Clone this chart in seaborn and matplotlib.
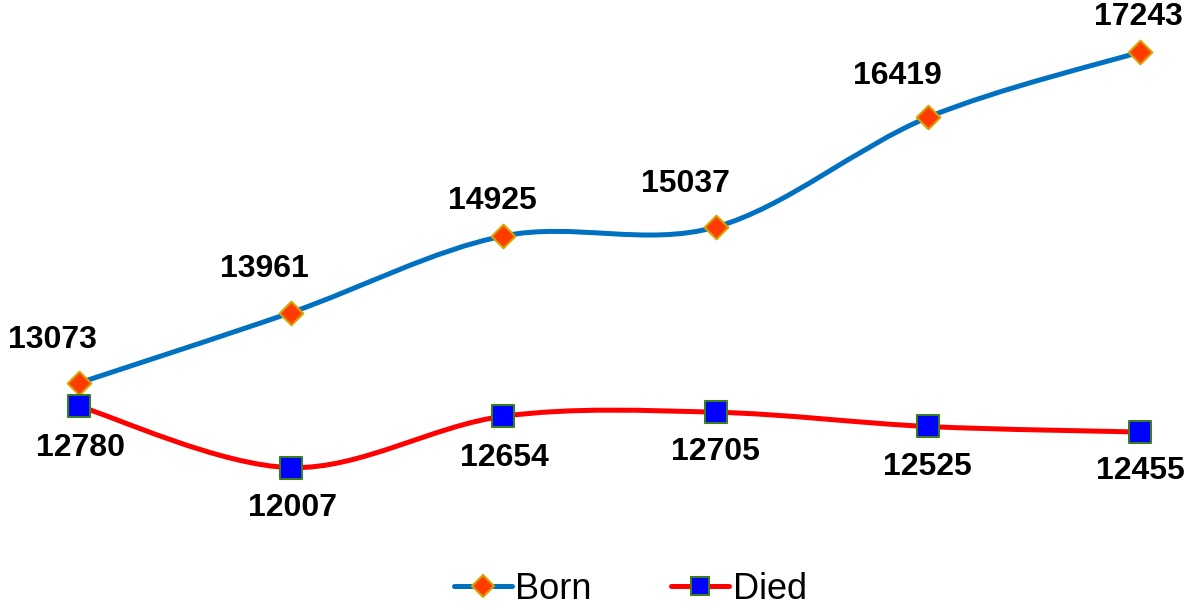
import matplotlib.pyplot as plt
import seaborn as sns
import numpy as np
import pandas as pd
from matplotlib.path import Path
from matplotlib.patches import PathPatch
from matplotlib.lines import Line2D

# data
years = [0, 1, 2, 3, 4, 5]
born = [13073, 13961, 14925, 15037, 16419, 17243]
died = [12780, 12007, 12654, 12705, 12525, 12455]

# label offsets in points (layout only)
born_offsets = [(-19, 31), (-19, 31), (-8, 25), (-22, 31), (-22, 30), (-1, 25)]
died_offsets = [(1, -30), (1, -29), (1, -30), (0, -29), (0, -29), (0, -28)]

df = pd.DataFrame({'x': years, 'Born': born, 'Died': died})

sns.set_style('white')
plt.rcParams['font.family'] = ['Liberation Sans', 'DejaVu Sans']
plt.rcParams['text.color'] = 'black'

fig = plt.figure(figsize=(11.96, 6.10), dpi=100)
ax = fig.add_axes([0, 70 / 610, 1, 540 / 610])


def smooth_path(xs, ys):
    # Excel-like smoothed line: cubic bezier segments through each point
    pts = np.column_stack([xs, ys]).astype(float)
    ext = np.vstack([pts[0], pts, pts[-1]])
    verts = [pts[0]]
    codes = [Path.MOVETO]
    for k in range(len(pts) - 1):
        p0, p1, p2, p3 = ext[k], ext[k + 1], ext[k + 2], ext[k + 3]
        verts += [p1 + (p2 - p0) / 6, p2 - (p3 - p1) / 6, p2]
        codes += [Path.CURVE4] * 3
    return Path(verts, codes)


series = {
    'Born': dict(line='#0070C0', face='#FF3B00', edge='#D9A300', marker='D', ms=145, offs=born_offsets),
    'Died': dict(line='#FF0000', face='#0000FF', edge='#3A7D22', marker='s', ms=240, offs=died_offsets),
}

for name, st in series.items():
    ax.add_patch(PathPatch(smooth_path(df['x'], df[name]), facecolor='none',
                           edgecolor=st['line'], lw=3.6, capstyle='round', zorder=2))
    sns.scatterplot(data=df, x='x', y=name, marker=st['marker'], s=st['ms'],
                    color=st['face'], edgecolor=st['edge'], linewidth=1.5, zorder=3, ax=ax)
    for xv, yv, off in zip(df['x'], df[name], st['offs']):
        ax.annotate(f'{yv}', (xv, yv), xytext=off, textcoords='offset points',
                    ha='center', va='center', fontsize=23, fontweight='bold', color='black')

ax.set_xlim(-0.372, 5.264)
ax.set_ylim(11095, 17898)
ax.set_xlabel('')
ax.set_ylabel('')
ax.set_xticks([])
ax.set_yticks([])
sns.despine(ax=ax, left=True, bottom=True)

handles = [
    Line2D([], [], color='#0070C0', lw=3.6, marker='D', ms=11, mfc='#FF3B00', mec='#D9A300', mew=1.5),
    Line2D([], [], color='#FF0000', lw=3.6, marker='s', ms=13, mfc='#0000FF', mec='#3A7D22', mew=1.5),
]
fig.legend(handles, ['Born', 'Died'], loc='lower center', bbox_to_anchor=(0.527, -0.048),
           ncol=2, frameon=False, fontsize=26, handlelength=1.6, handletextpad=0.1,
           columnspacing=2.2, labelcolor='black')

fig.savefig('out.png', dpi=100)
